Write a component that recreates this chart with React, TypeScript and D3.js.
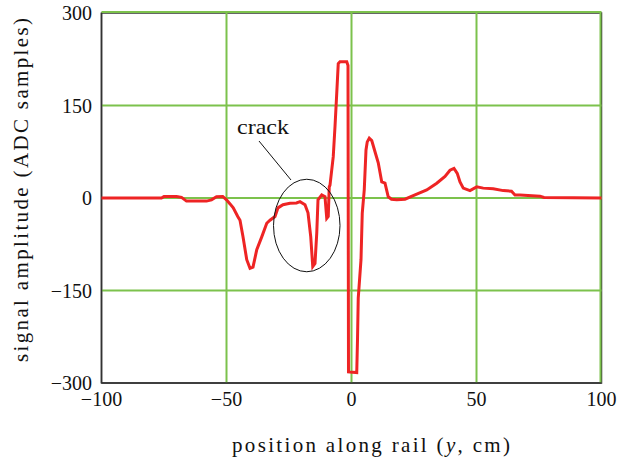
import React from "react";
import * as d3 from "d3";

const positions = [
  -100, -76, -75, -70, -68, -66, -58, -56, -54, -51.5, -50, -48.5, -47.3, -45.5, -44.6, -43.4, -41.9, -40.6,
  -39.4, -37.9, -35.9, -33.9, -32.6, -30.6, -29.4, -27.4, -24.6, -22, -20.6, -18.6, -17.4, -16.3, -15.5,
  -14.6, -13.9, -13.4, -11.9, -10.6, -9.9, -9.3, -8.9, -8.6, -7.3, -6.6, -5.9, -5.3, -4.6, -1.9, -1.4, -1.2,
  2.1, 2.4, 2.7, 3.8, 4.3, 5.1, 5.8, 6.3, 7.1, 8.1, 9.4, 10.7, 12.1, 13.4, 14.7, 16, 18.1, 21.4, 25.4, 30.1,
  34.1, 37.4, 39.4, 41, 42.3, 43.4, 44.7, 47.4, 50.1, 52.7, 56.7, 60.7, 64, 65.4, 67.4, 75.4, 77, 100,
];
const amplitudes = [
  0, 0, 2.5, 2.5, 1, -5, -5, -3, 2, 2.5, -3, -10, -16, -30, -36, -63, -100, -114,
  -112, -84, -63, -41, -36, -30, -16, -11, -8.5, -8, -6, -11, -24, -63, -111,
  -106, -57, -3, 5, 2, -33, -30, 18, 21, 67, 116, 170, 218, 221, 221, 215, -282,
  -283, -230, -162, -100, -25, 13, 78, 91, 97, 93, 75, 57, 26, 24, 2, -2, -3, -2, 5, 13,
  24, 35, 45, 48, 40, 26, 16, 12, 18, 16, 15, 12, 11, 5, 5, 3, 1, 0,
];

const xTicks = [-100, -50, 0, 50, 100];
const yTicks = [-300, -150, 0, 150, 300];
const xLabel = "position along rail (";
const yLabel = "signal amplitude (ADC samples)";
const annotationText = "crack";
// annotation in data units: ellipse center/radii, pointer line, text anchor
const crackEllipse = { cx: -17.9, cy: -44.6, rx: 13.3, ry: 75 };
const crackPointer = { x1: -37, y1: 92.4, x2: -24.2, y2: 29.2 };
const crackLabelPos = { x: -45.8, y: 103.8 };

export default function App() {
  const W = 617;
  const H = 466;
  const x = d3.scaleLinear().domain([-100, 100]).range([101.5, 601.5]);
  const y = d3.scaleLinear().domain([-300, 300]).range([383, 13]);
  const pts = positions.map((p, i) => [p, amplitudes[i]] as [number, number]);
  const line = d3
    .line<[number, number]>()
    .x((d) => x(d[0]))
    .y((d) => y(d[1]));
  const grid = "#7cc24c";
  const font = "'Liberation Serif', 'Times New Roman', serif";

  return (
    <svg
      width={W}
      height={H}
      style={{ position: "absolute", left: 0, top: 0, background: "#fff" }}
    >
      <rect x={0} y={0} width={W} height={H} fill="#fff" />
      {/* frame */}
      <rect
        x={x(-100)}
        y={y(300)}
        width={x(100) - x(-100)}
        height={y(-300) - y(300)}
        fill="none"
        stroke="#333"
        strokeWidth={1.5}
      />
      {/* grid */}
      {xTicks
        .filter((t) => t !== -100)
        .map((t) => (
          <line
            key={"gx" + t}
            x1={x(t) - (t === 100 ? 1 : 0)}
            x2={x(t) - (t === 100 ? 1 : 0)}
            y1={y(300)}
            y2={y(-300)}
            stroke={grid}
            strokeWidth={2}
          />
        ))}
      {yTicks
        .filter((t) => t !== -300)
        .map((t) => (
          <line
            key={"gy" + t}
            x1={x(-100)}
            x2={x(100)}
            y1={y(t) - (t === 300 ? 1 : 0)}
            y2={y(t) - (t === 300 ? 1 : 0)}
            stroke={grid}
            strokeWidth={2}
          />
        ))}
      {/* left & bottom axes on top */}
      <line x1={x(-100)} x2={x(-100)} y1={y(300)} y2={y(-300)} stroke="#333" strokeWidth={1.5} />
      <line x1={x(-100)} x2={x(100)} y1={y(-300)} y2={y(-300)} stroke="#333" strokeWidth={1.5} />

      {/* signal */}
      <path d={line(pts) || ""} fill="none" stroke="#ee2424" strokeWidth={3} strokeLinejoin="miter" />

      {/* annotation */}
      <ellipse
        cx={x(crackEllipse.cx)}
        cy={y(crackEllipse.cy)}
        rx={x(crackEllipse.cx + crackEllipse.rx) - x(crackEllipse.cx)}
        ry={y(crackEllipse.cy - crackEllipse.ry) - y(crackEllipse.cy)}
        fill="none"
        stroke="#111"
        strokeWidth={1}
      />
      <line
        x1={x(crackPointer.x1)}
        y1={y(crackPointer.y1)}
        x2={x(crackPointer.x2)}
        y2={y(crackPointer.y2)}
        stroke="#111"
        strokeWidth={1}
      />
      <text
        x={x(crackLabelPos.x)}
        y={y(crackLabelPos.y)}
        fontFamily={font}
        fontSize={21}
        textLength={52}
        lengthAdjust="spacingAndGlyphs"
        fill="#111"
      >
        {annotationText}
      </text>

      {/* y tick labels */}
      {yTicks.map((t) => (
        <text
          key={"yl" + t}
          x={92}
          y={y(t)}
          dy="0.35em"
          textAnchor="end"
          fontFamily={font}
          fontSize={20}
          fill="#111"
        >
          {t < 0 ? "\u2212" + Math.abs(t) : String(t)}
        </text>
      ))}
      {/* x tick labels */}
      {xTicks.map((t) => (
        <text
          key={"xl" + t}
          x={x(t)}
          y={406}
          textAnchor="middle"
          fontFamily={font}
          fontSize={20}
          fill="#111"
        >
          {t < 0 ? "\u2212" + Math.abs(t) : String(t)}
        </text>
      ))}

      {/* axis titles */}
      <text
        x={232}
        y={452}
        fontFamily={font}
        fontSize={21}
        textLength={278}
        lengthAdjust="spacing"
        fill="#111"
      >
        {xLabel}
        <tspan fontStyle="italic">y</tspan>
        {", cm)"}
      </text>
      <text
        transform={`translate(27.5, 190) rotate(-90)`}
        textAnchor="middle"
        fontFamily={font}
        fontSize={21}
        textLength={344}
        lengthAdjust="spacing"
        fill="#111"
      >
        {yLabel}
      </text>
    </svg>
  );
}
